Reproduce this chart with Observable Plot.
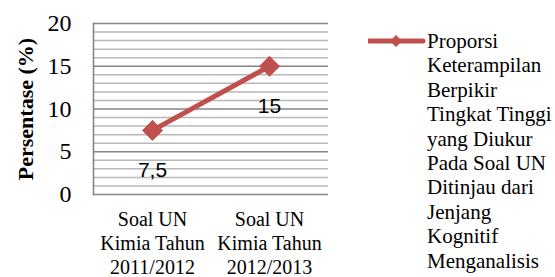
<!DOCTYPE html>
<html><head><meta charset="utf-8">
<script src="https://cdn.jsdelivr.net/npm/d3@7"></script>
<script src="https://cdn.jsdelivr.net/npm/@observablehq/plot@0.6"></script>
<style>
body{margin:0;background:#fff;}
#wrap{position:relative;width:555px;height:277px;overflow:hidden;background:#fff;}
#legend{position:absolute;left:368px;top:29px;display:flex;align-items:flex-start;font-family:"Liberation Serif","Times New Roman",serif;font-size:21px;line-height:24.4px;color:#000;}
#legend svg{flex:none;}
</style></head>
<body><div id="wrap"><div id="legend"></div></div>
<script>
const categories = ["Soal UN\nKimia Tahun\n2011/2012", "Soal UN\nKimia Tahun\n2012/2013"];
const values = [7.5, 15];
const valueLabels = ["7,5", "15"];
const yTicks = [0, 5, 10, 15, 20];
const gridMinor = d3.range(0, 21);
const yLabel = "Persentase (%)";
const seriesName = ["Proporsi", "Keterampilan", "Berpikir", "Tingkat Tinggi", "yang Diukur", "Pada Soal UN", "Ditinjau dari", "Jenjang", "Kognitif", "Menganalisis"];
const lineColor = "#c0504d";
const serif = "'Liberation Serif','Times New Roman',serif";

const data = categories.map((c, i) => ({cat: c, v: values[i], lab: valueLabels[i]}));

const chart = Plot.plot({
  width: 555, height: 277,
  marginLeft: 93, marginRight: 227, marginTop: 23, marginBottom: 83,
  style: {fontFamily: serif, background: "white", color: "black"},
  x: {type: "point", domain: categories, padding: 0.5},
  y: {domain: [0, 20]},
  marks: [
    Plot.ruleY(gridMinor.filter(d => d % 5 !== 0), {y: d => d, stroke: "#b8b8b8", strokeWidth: 1.5}),
    Plot.ruleY(yTicks, {y: d => d, stroke: "#868686", strokeWidth: 1.6}),
    Plot.frame({anchor: "left", stroke: "#868686", strokeWidth: 1.6}),
    Plot.axisY({ticks: yTicks, tickSize: 0, tickPadding: 22, fontSize: 24, fontFamily: serif, fontVariant: "normal", label: null}),
    Plot.axisX({tickSize: 0, tickPadding: 14, fontSize: 20, fontFamily: serif, lineHeight: 1.2, label: null}),
    Plot.text([yLabel], {frameAnchor: "left", textAnchor: "middle", rotate: -90, dx: -68, fontSize: 22, fontWeight: "bold", fontFamily: serif, fill: "black"}),
    Plot.line(data, {x: "cat", y: "v", stroke: lineColor, strokeWidth: 5}),
    Plot.dot(data, {x: "cat", y: "v", symbol: "diamond2", r: 9, fill: lineColor, stroke: lineColor, strokeWidth: 1}),
    Plot.text(data, {x: "cat", y: "v", text: "lab", dy: 40, fontSize: 21, fontFamily: "'Liberation Sans',Arial,sans-serif", fill: "black"})
  ]
});
document.getElementById("wrap").prepend(chart);

const lg = document.getElementById("legend");
const sw = d3.create("svg").attr("width", 59).attr("height", 24);
sw.append("line").attr("x1", 1).attr("x2", 55).attr("y1", 12).attr("y2", 12).attr("stroke", lineColor).attr("stroke-width", 5).attr("stroke-linecap", "round");
sw.append("path").attr("d", "M28,6L34,12L28,18L22,12Z").attr("fill", lineColor);
lg.append(sw.node());
const tx = document.createElement("div");
tx.innerHTML = seriesName.join("<br>");
lg.append(tx);
</script></body></html>
